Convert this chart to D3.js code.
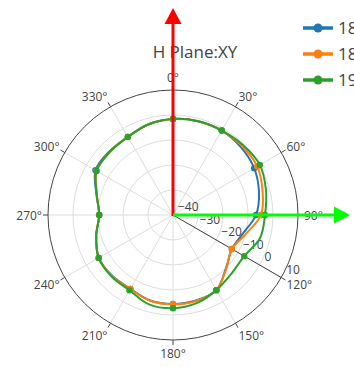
<!DOCTYPE html>
<html>
<head>
<meta charset="utf-8">
<script src="https://cdn.jsdelivr.net/npm/d3@7"></script>
<style>
html, body { margin: 0; padding: 0; background: #fff; }
svg { display: block; font-family: "Open Sans", verdana, arial, sans-serif; }
</style>
</head>
<body>
<svg id="chart" width="354" height="367"></svg>
<script>
var angles = [0, 15, 30, 45, 60, 75, 90, 105, 120, 135, 150, 165,
              180, 195, 210, 225, 240, 255, 270, 285, 300, 315, 330, 345];

var gain1850 = [-1.6, -1.2, -1.0, -1.6, -2.5, -4.4, -6.8, -11.1, -12.8, -10.0, -5.3, -4.6,
                -4.4, -4.6, -5.9, -5.6, -5.7, -8.2, -10.5, -8.3, -4.2, -4.0, -3.9, -2.4];
var gain1880 = [-1.6, -1.2, -1.0, -1.0, -1.1, -2.9, -4.8, -10.0, -12.8, -9.8, -5.3, -4.4,
                -4.3, -4.5, -5.8, -5.5, -5.7, -8.2, -10.4, -8.5, -4.6, -4.3, -3.9, -2.4];
var gain1920 = [-1.6, -1.2, -1.0, -0.4, 0.1, -1.5, -3.2, -4.0, -7.1, -6.9, -5.3, -3.5,
                -2.7, -3.0, -5.2, -5.2, -5.7, -8.2, -10.5, -8.4, -4.7, -4.3, -3.9, -2.4];

var seriesNames = ["1850MHz", "1880MHz", "1920MHz"];
var seriesColors = ["#1f77b4", "#ff7f0e", "#2ca02c"];
var radialTicks = [-40, -30, -20, -10, 0, 10];
var angularTicks = [0, 30, 60, 90, 120, 150, 180, 210, 240, 270, 300, 330];
var title = "H Plane:XY";

var cx = 173, cy = 215, R = 125;
var rad = Math.PI / 180;

var svg = d3.select("#chart");
var r = d3.scaleLinear().domain([-40, 10]).range([0, R]);

function px(a, rr) { return cx + rr * Math.sin(a * rad); }
function py(a, rr) { return cy - rr * Math.cos(a * rad); }

// title
svg.append("text")
  .attr("x", 195).attr("y", 58)
  .attr("text-anchor", "middle")
  .attr("font-size", 17).attr("fill", "#444")
  .text(title);

var g = svg.append("g");

// grid circles
g.selectAll("circle.grid")
  .data(radialTicks.filter(function(d){ return d > -40 && d < 10; }))
  .enter().append("circle")
  .attr("class", "grid")
  .attr("cx", cx).attr("cy", cy)
  .attr("r", function(d){ return r(d); })
  .attr("fill", "none").attr("stroke", "#ddd");

// angular grid lines
g.selectAll("line.agrid")
  .data(angularTicks)
  .enter().append("line")
  .attr("x1", cx).attr("y1", cy)
  .attr("x2", function(d){ return px(d, R); })
  .attr("y2", function(d){ return py(d, R); })
  .attr("stroke", "#ddd");

// outer circle + ticks
g.append("circle")
  .attr("cx", cx).attr("cy", cy).attr("r", R)
  .attr("fill", "none").attr("stroke", "#444");

g.selectAll("line.atick")
  .data(angularTicks)
  .enter().append("line")
  .attr("x1", function(d){ return px(d, R); })
  .attr("y1", function(d){ return py(d, R); })
  .attr("x2", function(d){ return px(d, R + 5); })
  .attr("y2", function(d){ return py(d, R + 5); })
  .attr("stroke", "#444");

// angular labels
g.selectAll("text.alabel")
  .data(angularTicks)
  .enter().append("text")
  .attr("x", function(d){ return px(d, 131); })
  .attr("y", function(d){ return py(d, 131) - 7 * Math.cos(d * rad) + 1; })
  .attr("dy", "0.35em")
  .attr("text-anchor", function(d){
    var s = Math.sin(d * rad);
    return Math.abs(s) < 0.01 ? "middle" : (s > 0 ? "start" : "end");
  })
  .attr("font-size", 12).attr("fill", "#444")
  .text(function(d){ return d + "°"; });

// radial axis
var raxAngle = 120;
g.append("line")
  .attr("x1", cx).attr("y1", cy)
  .attr("x2", px(raxAngle, R)).attr("y2", py(raxAngle, R))
  .attr("stroke", "#444");

g.selectAll("text.rlabel")
  .data(radialTicks)
  .enter().append("text")
  .attr("x", function(d){ return px(raxAngle, r(d)) + 5; })
  .attr("y", function(d){ return py(raxAngle, r(d)) - 8; })
  .attr("dy", "0.35em")
  .attr("font-size", 12).attr("fill", "#444")
  .text(function(d){ return d3.format("")(d); });

// data
var allSeries = [gain1850, gain1880, gain1920];
var line = d3.lineRadial()
  .angle(function(d, i){ return angles[i] * rad; })
  .radius(function(d){ return r(d); })
  .curve(d3.curveCatmullRomClosed.alpha(0.5));

var traces = g.selectAll("g.trace")
  .data(allSeries)
  .enter().append("g")
  .attr("transform", "translate(" + cx + "," + cy + ")");

traces.append("path")
  .attr("d", function(d){ return line(d); })
  .attr("fill", "none")
  .attr("stroke", function(d, i){ return seriesColors[i]; })
  .attr("stroke-width", 2);

traces.each(function(vals, si){
  d3.select(this).selectAll("circle")
    .data(vals.map(function(v, i){ return {a: angles[i], v: v}; })
               .filter(function(p){ return p.a % 30 === 0; }))
    .enter().append("circle")
    .attr("cx", function(p){ return r(p.v) * Math.sin(p.a * rad); })
    .attr("cy", function(p){ return -r(p.v) * Math.cos(p.a * rad); })
    .attr("r", 3.2)
    .attr("fill", seriesColors[si]);
});

// legend
var leg = svg.append("g");
seriesNames.forEach(function(name, i){
  var y = 28 + i * 26;
  leg.append("line")
    .attr("x1", 303).attr("x2", 333).attr("y1", y).attr("y2", y)
    .attr("stroke", seriesColors[i]).attr("stroke-width", 3.5);
  leg.append("circle")
    .attr("cx", 318).attr("cy", y).attr("r", 4.5)
    .attr("fill", seriesColors[i]);
  leg.append("text")
    .attr("x", 338).attr("y", y).attr("dy", "0.36em")
    .attr("font-size", 17).attr("fill", "#444")
    .text(name);
});

// axis arrows
function arrow(x1, y1, x2, y2, color) {
  var len = Math.hypot(x2 - x1, y2 - y1);
  var ux = (x2 - x1) / len, uy = (y2 - y1) / len;
  var hl = 16, hw = 8.5;
  var bx = x2 - ux * hl, by = y2 - uy * hl;
  svg.append("line")
    .attr("x1", x1).attr("y1", y1).attr("x2", bx).attr("y2", by)
    .attr("stroke", color).attr("stroke-width", 3);
  svg.append("path")
    .attr("d", "M" + x2 + "," + y2 +
               "L" + (bx - uy * hw) + "," + (by + ux * hw) +
               "L" + (bx + uy * hw) + "," + (by - ux * hw) + "Z")
    .attr("fill", color);
}
arrow(cx, cy + 1, cx, 8, "#ff0000");
arrow(cx, cy, 350, cy, "#00ff00");
</script>
</body>
</html>
